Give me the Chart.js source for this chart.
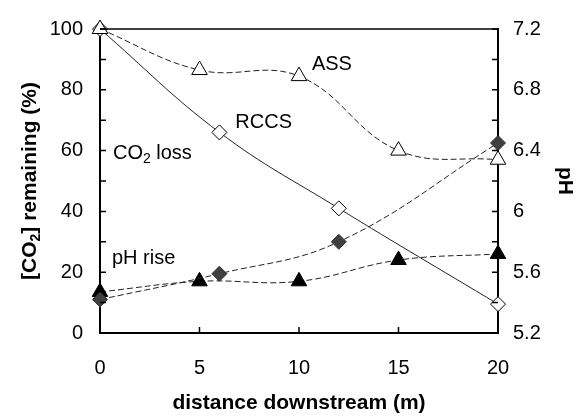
<!DOCTYPE html>
<html>
<head>
<meta charset="utf-8">
<script src="https://cdn.jsdelivr.net/npm/chart.js@4.4.0/dist/chart.umd.min.js"></script>
<style>
  body { margin: 0; background: #fff; }
  #wrap { width: 585px; height: 418px; }
</style>
</head>
<body>
<div id="wrap"><canvas id="co2Chart" width="585" height="418"></canvas></div>
<script>
// distances (m) for each field site
const assDistance = [0, 5, 10, 15, 20];
const rccsDistance = [0, 6, 12, 20];

// [CO2] remaining (%)
const assCo2 = [100, 86.5, 84.5, 60, 57];
const rccsCo2 = [100, 66, 41, 9.5];

// pH
const assPh = [5.47, 5.54, 5.54, 5.68, 5.72];
const rccsPh = [5.42, 5.59, 5.80, 6.45];

// axis ranges
const xTicks = [0, 5, 10, 15, 20];
const co2Range = [0, 100];
const phRange = [5.2, 7.2];

// text labels placed in data units (distance, % remaining)
const noteText = [
    [{ t: 'ASS' }],
    [{ t: 'RCCS' }],
    [{ t: 'CO' }, { t: '2', sub: true }, { t: ' loss' }],
    [{ t: 'pH rise' }]
];
const noteX = [10.65, 6.8, 0.65, 0.6];
const noteY = [88.4, 69.2, 59.1, 24.5];

const FONT = '"Liberation Sans", Arial, sans-serif';

function pairs(xs, ys) {
    return xs.map((x, i) => ({ x: x, y: ys[i] }));
}

// draws text that may hold a subscript part, returns nothing
function drawRich(ctx, parts, x, y, size, bold, align) {
    const w = bold ? 'bold ' : '';
    let total = 0;
    parts.forEach(p => {
        ctx.font = w + (p.sub ? Math.round(size * 0.68) : size) + 'px ' + FONT;
        total += ctx.measureText(p.t).width;
    });
    let cx = align === 'center' ? x - total / 2 : x;
    ctx.textBaseline = 'middle';
    ctx.textAlign = 'left';
    parts.forEach(p => {
        ctx.font = w + (p.sub ? Math.round(size * 0.68) : size) + 'px ' + FONT;
        ctx.fillText(p.t, cx, p.sub ? y + size * 0.3 : y);
        cx += ctx.measureText(p.t).width;
    });
}

const extras = {
    id: 'extras',
    afterDraw(chart) {
        const ctx = chart.ctx;
        const a = chart.chartArea;
        const xs = chart.scales.x, ys = chart.scales.y, y2 = chart.scales.y2;
        ctx.save();
        ctx.strokeStyle = '#000';
        ctx.fillStyle = '#000';

        // top frame line
        ctx.lineWidth = 1.5;
        ctx.beginPath();
        ctx.moveTo(a.left, a.top);
        ctx.lineTo(a.right, a.top);
        ctx.stroke();

        // inward tick marks
        ctx.lineWidth = 1.5;
        ctx.beginPath();
        xs.ticks.forEach(t => {
            const px = xs.getPixelForValue(t.value);
            ctx.moveTo(px, a.bottom);
            ctx.lineTo(px, a.bottom - 6);
        });
        ys.ticks.forEach(t => {
            const py = ys.getPixelForValue(t.value);
            ctx.moveTo(a.left, py);
            ctx.lineTo(a.left + 6, py);
        });
        y2.ticks.forEach(t => {
            const py = y2.getPixelForValue(t.value);
            ctx.moveTo(a.right, py);
            ctx.lineTo(a.right - 6, py);
        });
        ctx.stroke();

        // notes inside the plot
        noteText.forEach((parts, i) => {
            drawRich(ctx, parts, xs.getPixelForValue(noteX[i]), ys.getPixelForValue(noteY[i]), 20, false, 'left');
        });

        // axis titles
        drawRich(ctx, [{ t: 'distance downstream (m)' }], (a.left + a.right) / 2, 403, 21, true, 'center');

        ctx.save();
        ctx.translate(30, (a.top + a.bottom) / 2);
        ctx.rotate(-Math.PI / 2);
        drawRich(ctx, [{ t: '[CO' }, { t: '2', sub: true }, { t: '] remaining (%)' }], 0, 0, 21, true, 'center');
        ctx.restore();

        ctx.save();
        ctx.translate(565, (a.top + a.bottom) / 2);
        ctx.rotate(Math.PI / 2);
        drawRich(ctx, [{ t: 'pH' }], 0, 0, 21, true, 'center');
        ctx.restore();

        ctx.restore();
    }
};

const ctx = document.getElementById('co2Chart').getContext('2d');

new Chart(ctx, {
    type: 'line',
    data: {
        datasets: [
            {
                label: 'ASS CO2',
                data: pairs(assDistance, assCo2),
                yAxisID: 'y',
                borderColor: '#222',
                borderWidth: 1,
                borderDash: [6, 3],
                tension: 0.4,
                pointStyle: 'triangle',
                pointRadius: 9,
                pointBackgroundColor: '#fff',
                pointBorderColor: '#000',
                pointBorderWidth: 1
            },
            {
                label: 'RCCS CO2',
                data: pairs(rccsDistance, rccsCo2),
                yAxisID: 'y',
                borderColor: '#222',
                borderWidth: 1,
                tension: 0.4,
                pointStyle: 'rectRot',
                pointRadius: 7.5,
                pointBackgroundColor: '#fff',
                pointBorderColor: '#000',
                pointBorderWidth: 1
            },
            {
                label: 'RCCS pH',
                data: pairs(rccsDistance, rccsPh),
                yAxisID: 'y2',
                borderColor: '#222',
                borderWidth: 1,
                borderDash: [6, 3],
                tension: 0.4,
                pointStyle: 'rectRot',
                pointRadius: 7.5,
                pointBackgroundColor: '#404040',
                pointBorderColor: '#303030',
                pointBorderWidth: 1
            },
            {
                label: 'ASS pH',
                data: pairs(assDistance, assPh),
                yAxisID: 'y2',
                borderColor: '#222',
                borderWidth: 1,
                borderDash: [6, 3],
                tension: 0.4,
                pointStyle: 'triangle',
                pointRadius: 9,
                pointBackgroundColor: '#000',
                pointBorderColor: '#000',
                pointBorderWidth: 1
            }
        ]
    },
    options: {
        responsive: false,
        animation: false,
        clip: false,
        layout: { padding: { top: 15, left: 0, right: 0, bottom: 0 } },
        plugins: {
            legend: { display: false },
            tooltip: { enabled: false }
        },
        scales: {
            x: {
                type: 'linear',
                min: xTicks[0],
                max: xTicks[xTicks.length - 1],
                afterBuildTicks: scale => { scale.ticks = xTicks.map(v => ({ value: v })); },
                afterFit: scale => { scale.height = 85; },
                grid: { display: false, drawTicks: false },
                border: { display: true, color: '#000', width: 2 },
                ticks: { color: '#000', padding: 23, font: { family: FONT, size: 20 } }
            },
            y: {
                position: 'left',
                min: co2Range[0],
                max: co2Range[1],
                afterFit: scale => { scale.width = 100; },
                grid: { display: false, drawTicks: false },
                border: { display: true, color: '#000', width: 2 },
                ticks: {
                    stepSize: 10,
                    color: '#000',
                    padding: 17,
                    font: { family: FONT, size: 20 },
                    callback: v => (Math.round(v) % 20 === 0 ? v : '')
                }
            },
            y2: {
                position: 'right',
                min: phRange[0],
                max: phRange[1],
                afterFit: scale => { scale.width = 87; },
                grid: { display: false, drawTicks: false },
                border: { display: true, color: '#000', width: 2 },
                ticks: {
                    stepSize: 0.2,
                    color: '#000',
                    padding: 15,
                    font: { family: FONT, size: 20 },
                    callback: v => (Math.round(v * 10) % 4 === 0 ? String(Math.round(v * 10) / 10) : '')
                }
            }
        }
    },
    plugins: [extras]
});
</script>
</body>
</html>
